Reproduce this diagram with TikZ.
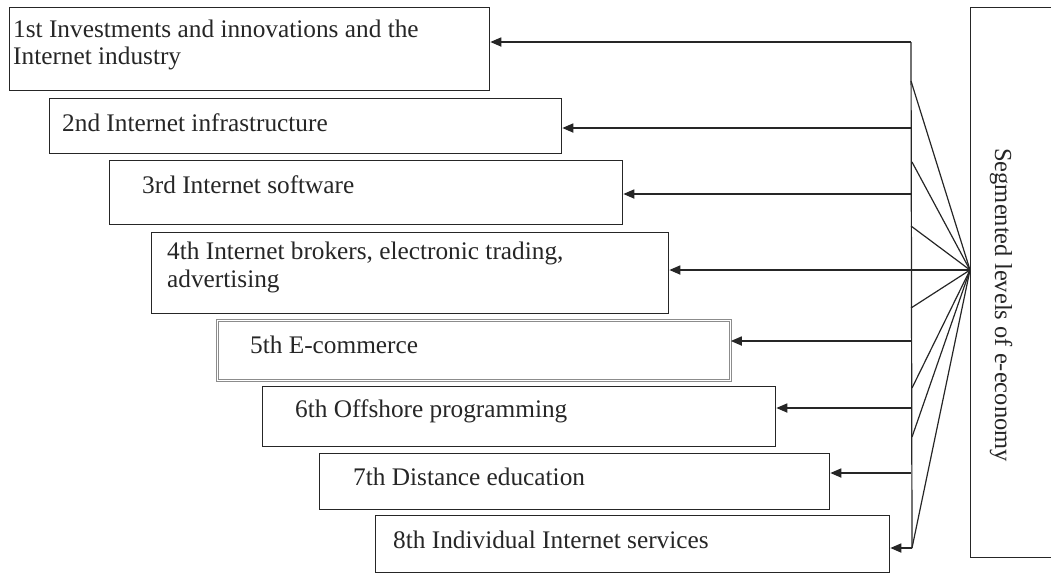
\documentclass[tikz,border=0pt]{standalone}
\usepackage{fontspec}
\setmainfont{Liberation Serif}
\usetikzlibrary{arrows.meta}
\begin{document}
\begin{tikzpicture}[x=1pt,y=-1pt,
  lvl/.style={draw=black!85, line width=1.3pt, rectangle, inner sep=0pt, anchor=north west},
  lvldouble/.style={lvl, draw=black!45, line width=0.8pt, double=white, double distance=1.4pt},
  lbl/.style={inner sep=0pt, anchor=base west, align=left,
    font=\fontsize{25.3}{27.5}\selectfont, text=black!85},
  feed/.style={line width=1.7pt, draw=black!85, -{Triangle[length=11pt,width=9pt]}},
  fan/.style={line width=1.2pt, draw=black!85}]
\clip (0,0) rectangle (1051,574);

% the eight levels
\node[lvl, minimum width=480pt, minimum height=83pt] (b1) at (9,7) {};
\node[lvl, minimum width=512pt, minimum height=55pt] (b2) at (49,98) {};
\node[lvl, minimum width=513pt, minimum height=64pt] (b3) at (109,160) {};
\node[lvl, minimum width=517pt, minimum height=81pt] (b4) at (151,232) {};
\node[lvldouble, minimum width=513pt, minimum height=60pt] (b5) at (217,320) {};
\node[lvl, minimum width=513pt, minimum height=60pt] (b6) at (262,386) {};
\node[lvl, minimum width=510pt, minimum height=56pt] (b7) at (319,453) {};
\node[lvl, minimum width=514pt, minimum height=57pt] (b8) at (375,515) {};

% two-line labels are placed by the baseline of their last line
\node[lbl] (l1) at (13,64.5) {1st Investments and innovations and the\\Internet industry};
\node[lbl] (l2) at (62,131) {2nd Internet infrastructure};
\node[lbl] (l3) at (142,193) {3rd Internet software};
\node[lbl] (l4) at (167,287) {4th Internet brokers, electronic trading,\\advertising};
\node[lbl] (l5) at (250,353) {5th E-commerce};
\node[lbl] (l6) at (295,417) {6th Offshore programming};
\node[lbl] (l7) at (353,485) {7th Distance education};
\node[lbl] (l8) at (393,548) {8th Individual Internet services};

% the overall concept on the right
\node[lvl, minimum width=130pt, minimum height=550pt] (seg) at (970,7) {};
\node[inner sep=0pt, rotate=-90, anchor=center,
  font=\fontsize{24.5}{27}\selectfont, text=black!85] (segt) at (1001,305)
  {Segmented levels of e-economy};

% distribution bar and hub
\coordinate (hub) at (970,270);
\coordinate (t1) at (911,42);
\coordinate (t2) at (911,128);
\coordinate (t3) at (911,194);
\coordinate (t5) at (911,341);
\coordinate (t6) at (911,408);
\coordinate (t7) at (911,473);
\coordinate (t8) at (912,548);

\coordinate (f1) at (911,81);
\coordinate (f2) at (912,162);
\coordinate (f3) at (911,226);
\coordinate (f4) at (911,308);
\coordinate (f5) at (912,388);
\coordinate (f6) at (912,437);

\draw[fan] (t1) -- (t8);
\foreach \f in {f1,f2,f3,f4,f5,f6,t8}
  \draw[fan] (hub) -- (\f);

\draw[feed] (t1) -- (t1 -| b1.east);
\draw[feed] (t2) -- (t2 -| b2.east);
\draw[feed] (t3) -- (t3 -| b3.east);
\draw[feed] (hub) -- (hub -| b4.east);
\draw[feed] (t5) -- (t5 -| b5.east);
\draw[feed] (t6) -- (t6 -| b6.east);
\draw[feed] (t7) -- (t7 -| b7.east);
\draw[feed] (t8) -- (t8 -| b8.east);
\end{tikzpicture}
\end{document}
